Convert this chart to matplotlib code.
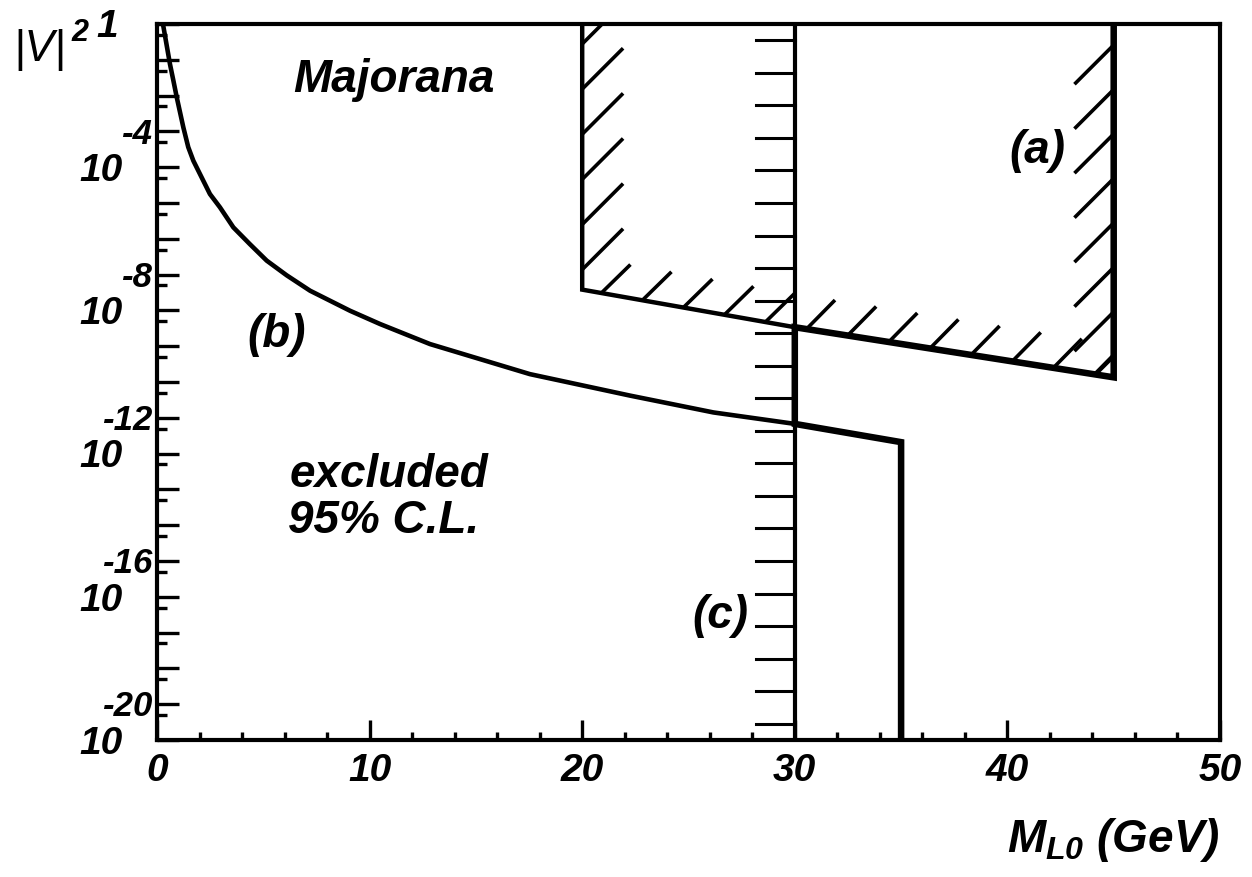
import numpy as np
import matplotlib
matplotlib.use("Agg")
import matplotlib.pyplot as plt
import matplotlib.patheffects as pe
from matplotlib.patches import Polygon
from matplotlib.ticker import LogLocator, MultipleLocator, NullFormatter

plt.rcParams['font.family'] = ['Liberation Sans', 'DejaVu Sans']
plt.rcParams['mathtext.fontset'] = 'custom'
plt.rcParams['mathtext.it'] = 'Liberation Sans:bold:italic'
plt.rcParams['mathtext.rm'] = 'Liberation Sans:bold:italic'

# curve (b): mass in GeV, log10 |V|^2
b_mass = [0.28, 0.61, 0.77, 0.93, 1.24, 1.47, 1.71, 2.02, 2.49, 2.96, 3.59,
          4.37, 5.16, 6.10, 7.20, 8.14, 9.08, 10.49, 12.84, 17.54, 22.25,
          26.17, 30.0]
b_logv = [0.0, -1.12, -1.58, -2.05, -2.89, -3.44, -3.82, -4.19, -4.75, -5.12,
          -5.68, -6.15, -6.61, -7.02, -7.45, -7.73, -8.01, -8.38, -8.94, -9.78,
          -10.38, -10.85, -11.17]

# (a) region, thin left part
a_mass = [20, 20, 30]
a_logv = [0.0, -7.42, -8.47]

# combined limit (thick)
comb_mass = [45, 45, 30, 30, 35, 35]
comb_logv = [0.0, -9.87, -8.47, -11.17, -11.68, -20.0]

# (c) limit at 30 GeV
c_mass = [30, 30]
c_logv = [-20.0, 0.0]

# hatched edges of region (a)
hatch_left_mass = [20, 20]
hatch_left_logv = [0.0, -7.42]
hatch_bot_mass = [20, 30, 45]
hatch_bot_logv = [-7.42, -8.47, -9.87]
hatch_right_mass = [45, 45]
hatch_right_logv = [-9.87, 0.0]

ylabel_exps = [-4, -8, -12, -16, -20]

def pw(v):
    return 10.0 ** np.array(v)

fig = plt.figure(figsize=(12.52, 8.78), dpi=100)
ax = fig.add_axes([157/1252, (878-741)/878, (1220-157)/1252, (741-25)/878])
ax.set_yscale('log')
ax.set_xlim(0, 50)
ax.set_ylim(1e-20, 1)

ax.plot(b_mass, pw(b_logv), color='black', lw=3.3, solid_joinstyle='round')
ax.plot(a_mass, pw(a_logv), color='black', lw=3.2, solid_joinstyle='miter')
ax.plot(comb_mass, pw(comb_logv), color='black', lw=4.7, solid_joinstyle='miter')
ax.plot(c_mass, pw(c_logv), color='black', lw=3.0,
        path_effects=[pe.withTickedStroke(angle=90, spacing=23.3, length=1.2, linewidth=2.2)])

# clip the hatch ticks to the inside of region (a)
reg_x = hatch_left_mass + hatch_bot_mass[1:] + hatch_right_mass[1:]
reg_y = hatch_left_logv + hatch_bot_logv[1:] + hatch_right_logv[1:]
region = Polygon(np.column_stack([reg_x, pw(reg_y)]), closed=True,
                 transform=ax.transData)

hatch_sets = [
    (hatch_left_mass, hatch_left_logv, 135, 28.8, 1.4),
    (hatch_bot_mass, hatch_bot_logv, 54.4, 28.0, 1.0),
    (hatch_right_mass, hatch_right_logv, 135, 30.2, 1.28),
]
for hx, hy, ang, spc, ln in hatch_sets:
    line, = ax.plot(hx, pw(hy), color='black', lw=2.6,
                    path_effects=[pe.TickedStroke(angle=ang, spacing=spc, length=ln, linewidth=2.6)])
    line.set_clip_path(region)

ax.xaxis.set_major_locator(MultipleLocator(10))
ax.xaxis.set_minor_locator(MultipleLocator(2))
ax.yaxis.set_major_locator(LogLocator(base=10, numticks=40))
ax.yaxis.set_minor_locator(LogLocator(base=10, subs=(5,), numticks=40))
ax.yaxis.set_minor_formatter(NullFormatter())
ax.tick_params(axis='both', which='both', direction='in', top=False, right=False, width=2.4)
ax.tick_params(axis='y', which='major', length=16, labelleft=False)
ax.tick_params(axis='y', which='minor', length=7.5)
ax.tick_params(axis='x', which='major', length=14.5, pad=9, labelsize=28)
ax.tick_params(axis='x', which='minor', length=6)
for lab in ax.get_xticklabels():
    lab.set_fontweight('bold')
    lab.set_fontstyle('italic')
for sp in ax.spines.values():
    sp.set_linewidth(3.0)

tfont = dict(fontweight='bold', fontstyle='italic', color='black')
for e in ylabel_exps:
    ax.annotate('10', xy=(0, 10.0**e), xycoords=('axes fraction', 'data'),
                xytext=(-25, -2), textcoords='offset points', ha='right', va='center',
                fontsize=28, annotation_clip=False, **tfont)
    ax.annotate(str(e), xy=(0, 10.0**e), xycoords=('axes fraction', 'data'),
                xytext=(-3.6, 24.5), textcoords='offset points', ha='right', va='center',
                fontsize=25, annotation_clip=False, **tfont)
ax.annotate('1', xy=(0, 1.0), xycoords=('axes fraction', 'data'),
            xytext=(-28, -1.5), textcoords='offset points', ha='right', va='center',
            fontsize=28, annotation_clip=False, **tfont)

fig.text(13/1252, 1-50/878, '|V|', fontsize=32, fontstyle='italic', ha='left', va='center')
fig.text(71/1252, 1-33/878, '2', fontsize=22, ha='left', va='center', **tfont)
fig.text(1220/1252, 1-840/878, r'$M_{L0}$ (GeV)', fontsize=33, ha='right', va='center', **tfont)

ax.text(6.4, 10**-1.87, 'Majorana', fontsize=33, ha='left', va='baseline', **tfont)
ax.text(4.23, 10**-8.66, '(b)', fontsize=33, ha='left', va='center', **tfont)
ax.text(6.26, 10**-12.9, 'excluded', fontsize=33, ha='left', va='baseline', **tfont)
ax.text(6.16, 10**-14.19, '95% C.L.', fontsize=33, ha='left', va='baseline', **tfont)
ax.text(25.2, 10**-16.5, '(c)', fontsize=33, ha='left', va='center', **tfont)
ax.text(40.1, 10**-3.53, '(a)', fontsize=33, ha='left', va='center', **tfont)

fig.savefig('out.png', dpi=100)
